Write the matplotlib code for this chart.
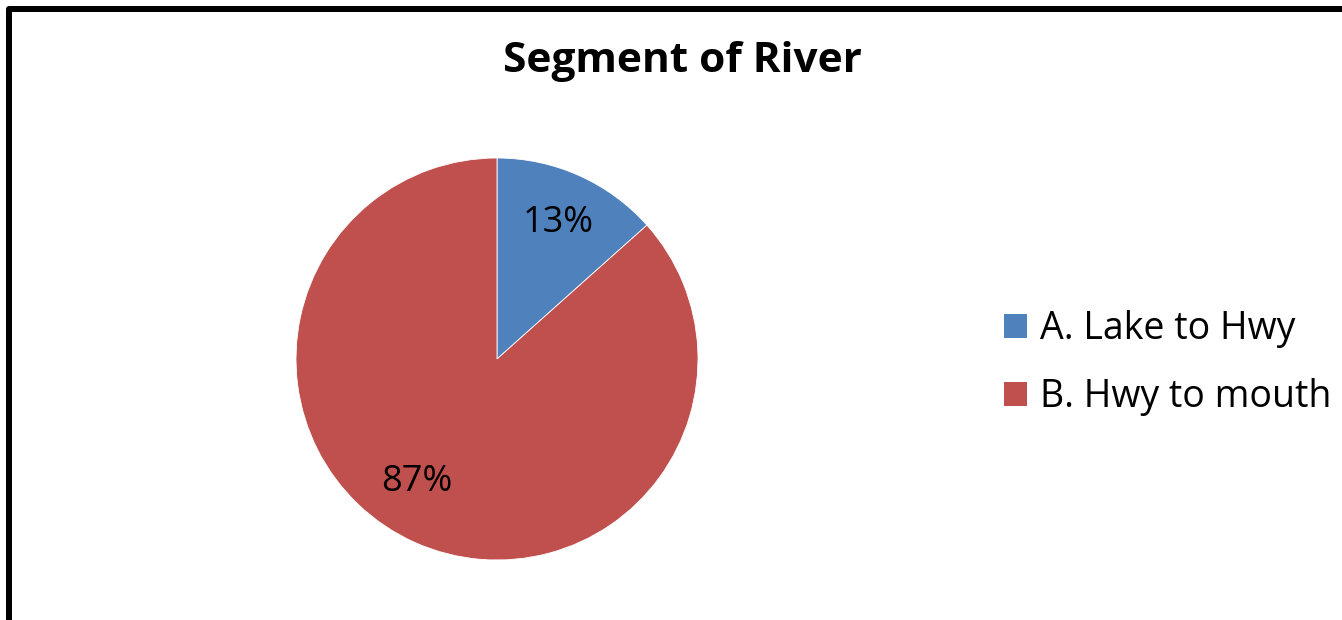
import matplotlib
matplotlib.use("Agg")
import matplotlib.pyplot as plt
from matplotlib.patches import Rectangle, Patch

plt.rcParams['font.family'] = ['Open Sans', 'DejaVu Sans']

# data
segments = ["A. Lake to Hwy", "B. Hwy to mouth"]
shares = [13.4, 86.6]
colors = ["#4F81BD", "#C0504D"]

W, H = 1342, 620
fig = plt.figure(figsize=(W / 100, H / 100), dpi=100)

# pie axes: centre ~ (497, 359) px, radius ~201 px
ax = fig.add_axes([296 / W, 60 / H, 402 / W, 402 / H])
wedges, texts, autotexts = ax.pie(
    shares, colors=colors, startangle=90, counterclock=False,
    autopct='%.0f%%', pctdistance=0.74,
    wedgeprops=dict(edgecolor='white', linewidth=0.6),
    textprops=dict(fontsize=26, color='black'))
# Excel puts the big slice's label a bit further round
autotexts[1].set_position((-0.40, -0.61))
ax.set_xlim(-1.0, 1.0)
ax.set_ylim(-1.0, 1.0)
ax.set_aspect('equal')

fig.text(682 / W, 1 - 62 / H, "Segment of River", ha='center', va='center',
         fontsize=30.5, fontweight='bold')

handles = [Patch(facecolor=c, edgecolor='none') for c in colors]
fig.legend(handles, segments, loc='center left',
           bbox_to_anchor=(1004 / W, 1 - 363 / H), frameon=False,
           fontsize=27, handlelength=0.61, handleheight=0.61,
           handletextpad=0.35, labelspacing=0.81, borderaxespad=0,
           borderpad=0)

# outer chart frame, cut off at right and bottom
fig.add_artist(Rectangle((9 / W, -0.2), 1.5, 0.2 + (H - 9) / H,
                         transform=fig.transFigure, fill=False,
                         edgecolor='black', linewidth=6 * 72 / 100,
                         joinstyle='round'))

fig.savefig("out.png", dpi=100)
